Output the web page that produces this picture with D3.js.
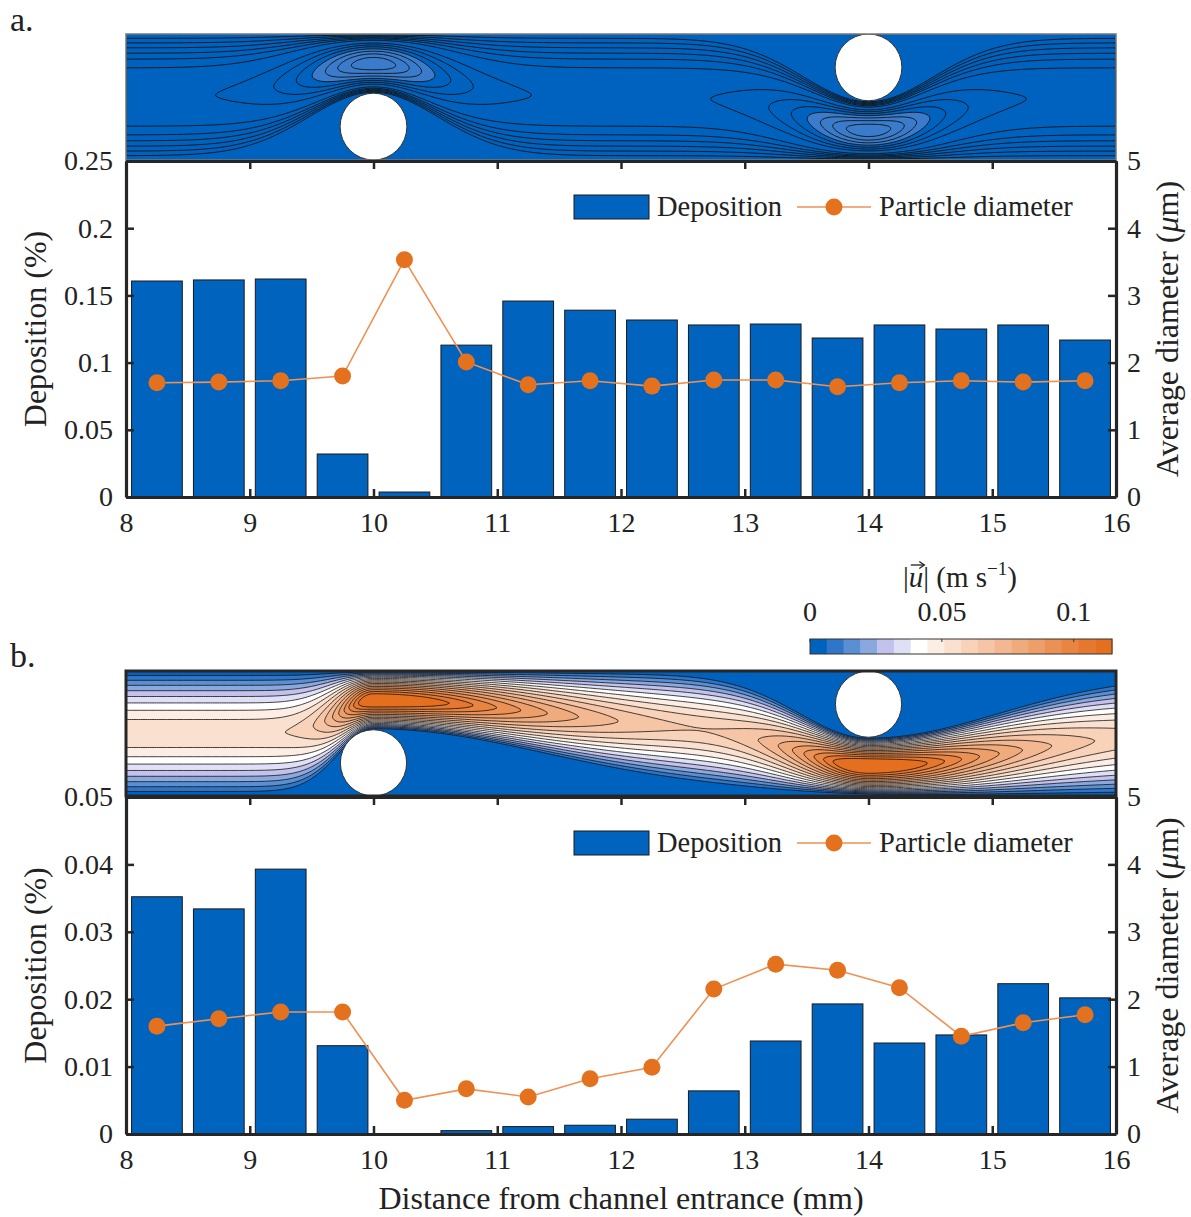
<!DOCTYPE html>
<html><head><meta charset="utf-8">
<script src="https://cdn.jsdelivr.net/npm/d3@7"></script>
<style>
body{margin:0;background:#fff}
text{font-family:"Liberation Serif","Times New Roman",serif;fill:#222}
</style>
</head><body>
<svg id="chart" width="1191" height="1217"></svg>
<script>
// ---------------- data ----------------
const binCenters = [8.25,8.75,9.25,9.75,10.25,10.75,11.25,11.75,12.25,12.75,13.25,13.75,14.25,14.75,15.25,15.75];
const depositionA = [0.1607,0.1615,0.1622,0.032,0.0037,0.113,0.1458,0.139,0.1317,0.128,0.1287,0.1183,0.128,0.125,0.128,0.1168];
const diameterA   = [1.70,1.71,1.73,1.80,3.53,2.01,1.67,1.73,1.65,1.74,1.74,1.64,1.70,1.73,1.71,1.73];
const depositionB = [0.0352,0.0334,0.0393,0.0131,0.0,0.0005,0.0011,0.0013,0.0022,0.0064,0.0138,0.0193,0.0135,0.0147,0.0223,0.0202];
const diameterB   = [1.60,1.71,1.81,1.81,0.50,0.67,0.55,0.82,0.99,2.15,2.52,2.43,2.17,1.45,1.65,1.77];
const xTickValues = [8,9,10,11,12,13,14,15,16];
const depTicksA = [0,0.05,0.1,0.15,0.2,0.25];
const depTicksB = [0,0.01,0.02,0.03,0.04,0.05];
const diamTicks = [0,1,2,3,4,5];
const colorbarTicks = [0,0.05,0.1];
const colorbarMax = 0.1145;
const colorbarColors = ["#0062BF","#2F76C9","#5A8FD4","#8AA8E0","#C2C2EC","#DFDFF5","#FFFFFF","#FCEEE5","#FAE0CF","#F8D3BA","#F5C5A5","#F3B891","#F0AB7D","#EE9E69","#EB9155","#E98441","#E6772F","#E4701F"];
const cylinderX = [10,14];
const cylinderY = [0.265,0.735];
const cylinderR = 0.265;

const BLUE = "#0063BE", ORANGE = "#E3711E", AXIS = "#262626";
const TICK_FS = 28, LABEL_FS = 32, LEGEND_FS = 28.5;
const svg = d3.select("#chart");

const x = d3.scaleLinear().domain([8,16]).range([126,1116]);

function flowField(px, py, p) {
  const w1 = Math.exp(-Math.pow((px-10)/(px<10?p.up1:p.dn1),2));
  const w2 = Math.exp(-Math.pow((px-14)/(px<14?p.up2:p.dn2),2));
  const lo = 0.53*w1, hi = 1-0.53*w2;
  const yc = (lo+hi)/2, h = (hi-lo)/2;
  const s = Math.abs((py-yc)/h);
  if (s >= 1) return 0;
  return (0.5/h)*(1-Math.pow(s,p.q))*p.scale;
}

function drawField(g, top, bottom, p, thresholds, fillFor, borderStyle, lw) {
  const W = x(16)-x(8), H = bottom-top;
  const nx = 440, ny = 80;
  const vals = new Float64Array(nx*ny);
  for (let j=0;j<ny;j++) for (let i=0;i<nx;i++) {
    const mx = 8 + (i+0.5)/nx*8, my = 1-(j+0.5)/ny;
    vals[j*nx+i] = flowField(mx, my, p);
  }
  const clipId = "clip"+top;
  svg.append("clipPath").attr("id",clipId).append("rect").attr("x",x(8)).attr("y",top).attr("width",W).attr("height",H);
  const fg = g.append("g").attr("clip-path",`url(#${clipId})`);
  fg.append("rect").attr("x",x(8)).attr("y",top).attr("width",W).attr("height",H).attr("fill",colorbarColors[0]);
  const proj = d3.geoTransform({point:function(gx,gy){this.stream.point(x(8)+gx/nx*W, top+gy/ny*H);}});
  const path = d3.geoPath(proj);
  const cs = d3.contours().size([nx,ny]).thresholds(thresholds)(vals);
  fg.selectAll("path.c").data(cs).join("path").attr("class","c")
    .attr("d",path).attr("fill",(d,i)=>fillFor(i)).attr("stroke","#111").attr("stroke-width",lw);
  const yf = d3.scaleLinear().domain([0,1]).range([bottom,top]);
  const rpx = cylinderR*(bottom-top);
  fg.selectAll("circle").data(cylinderX).join("circle")
    .attr("cx",d=>x(d)).attr("cy",(d,i)=>yf(cylinderY[i])).attr("r",rpx)
    .attr("fill","#fff").attr("stroke","#333").attr("stroke-width",1);
  g.append("rect").attr("x",x(8)).attr("y",top).attr("width",W).attr("height",H)
    .attr("fill","none").attr("stroke",borderStyle.color).attr("stroke-width",borderStyle.width);
}

function drawPanel(cfg) {
  const g = svg.append("g");
  const y = d3.scaleLinear().domain([0,cfg.depMax]).range([cfg.bottom,cfg.top]);
  const y2 = d3.scaleLinear().domain([0,5]).range([cfg.bottom,cfg.top]);
  const band = d3.scaleBand().domain(binCenters).range([x(8),x(16)]).paddingInner(0.18).paddingOuter(0.09);

  drawField(g, cfg.fieldTop, cfg.top-1, cfg.field, cfg.thresholds, cfg.fillFor, cfg.border, cfg.lineWidth);

  g.selectAll("rect.bar").data(cfg.dep).join("rect").attr("class","bar")
    .attr("x",(d,i)=>band(binCenters[i])).attr("width",band.bandwidth())
    .attr("y",d=>y(d)).attr("height",d=>y(0)-y(d))
    .attr("fill",BLUE).attr("stroke","#1a1a1a").attr("stroke-width",1)
    .attr("display",d=>d>0?null:"none");

  const line = d3.line().x((d,i)=>x(binCenters[i])).y(d=>y2(d));
  g.append("path").attr("d",line(cfg.diam)).attr("fill","none").attr("stroke","#EE9153").attr("stroke-width",1.6);
  g.selectAll("circle.pt").data(cfg.diam).join("circle").attr("class","pt")
    .attr("cx",(d,i)=>x(binCenters[i])).attr("cy",d=>y2(d)).attr("r",8.5).attr("fill",ORANGE);

  const styleAxis = sel => {
    sel.select(".domain").attr("stroke",AXIS).attr("stroke-width",3.2);
    sel.selectAll(".tick line").attr("stroke",AXIS).attr("stroke-width",2.5);
    sel.selectAll(".tick text").attr("font-family","Liberation Serif, serif").attr("font-size",TICK_FS).attr("fill","#222");
  };
  g.append("g").attr("transform",`translate(${x(8)},0)`)
    .call(d3.axisLeft(y).tickValues(cfg.depTicks).tickFormat(d=>String(d)).tickSizeInner(-8).tickSizeOuter(0).tickPadding(13))
    .call(styleAxis);
  g.append("g").attr("transform",`translate(${x(16)},0)`)
    .call(d3.axisRight(y2).tickValues(diamTicks).tickFormat(d=>String(d)).tickSizeInner(-8).tickSizeOuter(0).tickPadding(11))
    .call(styleAxis);
  g.append("g").attr("transform",`translate(0,${cfg.bottom})`)
    .call(d3.axisBottom(x).tickValues(xTickValues).tickFormat(d=>String(d)).tickSizeInner(-8).tickSizeOuter(0).tickPadding(15))
    .call(styleAxis);
  g.append("g").attr("transform",`translate(0,${cfg.top})`)
    .call(d3.axisTop(x).tickValues(xTickValues).tickFormat("").tickSizeInner(-8).tickSizeOuter(0))
    .call(styleAxis);

  g.append("text").attr("transform",`translate(46,${(cfg.top+cfg.bottom)/2}) rotate(-90)`)
    .attr("text-anchor","middle").attr("font-size",LABEL_FS).text("Deposition (%)");
  const rt = g.append("text").attr("transform",`translate(1178,${(cfg.top+cfg.bottom)/2}) rotate(-90)`)
    .attr("text-anchor","middle").attr("font-size",LABEL_FS);
  rt.append("tspan").text("Average diameter (");
  rt.append("tspan").attr("font-style","italic").text("μ");
  rt.append("tspan").text("m)");

  const ly = cfg.top + 46;
  g.append("rect").attr("x",574).attr("y",ly-12).attr("width",75).attr("height",24)
    .attr("fill",BLUE).attr("stroke","#1a1a1a").attr("stroke-width",1);
  g.append("text").attr("x",657).attr("y",ly+9).attr("font-size",LEGEND_FS).text("Deposition");
  g.append("line").attr("x1",797).attr("x2",871).attr("y1",ly).attr("y2",ly).attr("stroke","#EE9153").attr("stroke-width",1.6);
  g.append("circle").attr("cx",834).attr("cy",ly).attr("r",8.5).attr("fill",ORANGE);
  g.append("text").attr("x",879).attr("y",ly+9).attr("font-size",LEGEND_FS).text("Particle diameter");

  g.append("text").attr("x",10).attr("y",cfg.labelY).attr("font-size",34).text(cfg.label);
}

const threshA = [0.12,0.24,0.36,0.48,0.6,0.75,1.03,1.2,1.36,1.52,1.68,1.84,2.0];
drawPanel({
  label:"a.", labelY:31, fieldTop:34, top:161, bottom:497, depMax:0.25, depTicks:depTicksA,
  dep:depositionA, diam:diameterA,
  field:{up1:0.75,dn1:0.75,up2:0.75,dn2:0.75,scale:1,q:1.8},
  thresholds:threshA, lineWidth:0.9,
  fillFor:i=> threshA[i]>=1.52 ? "#3A7CCB" : "none",
  border:{color:"#777",width:1.5}
});

const cbStep = colorbarMax/colorbarColors.length;
const threshB = d3.range(1,colorbarColors.length).map(k=>k*cbStep);
drawPanel({
  label:"b.", labelY:667, fieldTop:671, top:797, bottom:1134, depMax:0.05, depTicks:depTicksB,
  dep:depositionB, diam:diameterB,
  field:{up1:0.4,dn1:2.0,up2:0.8,dn2:1.5,scale:0.056,q:1.6},
  thresholds:threshB, lineWidth:0.8,
  fillFor:i=> colorbarColors[i+1],
  border:{color:AXIS,width:3}
});

svg.append("text").attr("x",621).attr("y",1209).attr("text-anchor","middle").attr("font-size",LABEL_FS)
  .text("Distance from channel entrance (mm)");

// colorbar
const cx = d3.scaleLinear().domain([0,colorbarMax]).range([810,1112]);
const cb = svg.append("g");
cb.selectAll("rect.cb").data(colorbarColors).join("rect").attr("class","cb")
  .attr("x",(d,i)=>cx(i*cbStep)).attr("width",cx(cbStep)-cx(0)+0.5)
  .attr("y",639).attr("height",15).attr("fill",d=>d);
cb.append("rect").attr("x",810).attr("y",639).attr("width",302).attr("height",15)
  .attr("fill","none").attr("stroke","#333").attr("stroke-width",1);
cb.selectAll("line.t").data(colorbarTicks).join("line").attr("class","t")
  .attr("x1",d=>cx(d)).attr("x2",d=>cx(d)).attr("y1",639).attr("y2",642).attr("stroke","#333");
cb.selectAll("text.t").data(colorbarTicks).join("text").attr("class","t")
  .attr("x",d=>cx(d)).attr("y",621).attr("text-anchor","middle").attr("font-size",TICK_FS).text(d=>String(d));
const ct = cb.append("text").attr("x",960).attr("y",587).attr("text-anchor","middle").attr("font-size",29);
ct.append("tspan").text("|");
ct.append("tspan").attr("font-style","italic").text("u");
ct.append("tspan").text("| (m s");
ct.append("tspan").attr("dy",-12).attr("font-size",19).text("−1");
ct.append("tspan").attr("dy",12).text(")");
const un = ct.node();
const ux0 = un.getStartPositionOfChar(1).x, ux1 = un.getEndPositionOfChar(1).x;
const ay = 565, ax0 = ux0+2, ax1 = ux1+1;
cb.append("line").attr("x1",ax0).attr("x2",ax1).attr("y1",ay).attr("y2",ay).attr("stroke","#222").attr("stroke-width",1.3);
cb.append("path").attr("d",`M${ax1-5},${ay-3.5}L${ax1},${ay}L${ax1-5},${ay+3.5}`).attr("fill","none").attr("stroke","#222").attr("stroke-width",1.3);
</script>
</body></html>
